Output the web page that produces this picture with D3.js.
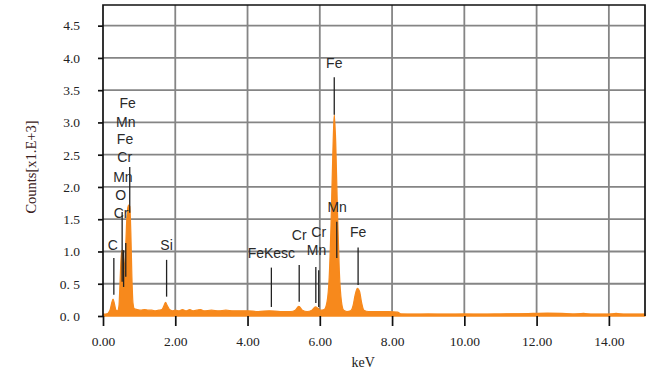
<!DOCTYPE html>
<html>
<head>
<meta charset="utf-8">
<script src="https://cdn.jsdelivr.net/npm/d3@7"></script>
<style>
  body { margin: 0; background: #fff; }
  svg { display: block; }
  .tick text { font-family: "Liberation Serif", "Times New Roman", serif; font-size: 13.5px; fill: #222; }
  .peak-label { font-family: "Liberation Sans", Arial, sans-serif; font-size: 14px; fill: #2a2a2a; }
</style>
</head>
<body>
<svg id="chart"></svg>
<script>
// spectrum (keV, counts x1000)
const spectrumKeV = [0.00,0.05,0.10,0.15,0.20,0.24,0.28,0.32,0.36,0.40,0.44,0.47,0.50,0.53,0.56,0.59,0.62,0.65,0.68,0.71,0.74,0.77,0.80,0.83,0.87,0.95,1.05,1.15,1.25,1.35,1.45,1.55,1.63,1.68,1.73,1.78,1.84,1.92,2.00,2.10,2.20,2.30,2.40,2.50,2.60,2.70,2.80,3.00,3.20,3.40,3.60,3.80,4.00,4.30,4.60,4.90,5.20,5.32,5.42,5.52,5.65,5.78,5.88,5.95,6.02,6.12,6.20,6.26,6.31,6.36,6.40,6.44,6.49,6.54,6.60,6.66,6.75,6.85,6.92,6.98,7.04,7.10,7.16,7.22,7.35,7.60,7.90,8.15,8.25,8.60,9.00,9.50,10.00,10.50,11.00,11.50,11.90,12.30,12.70,13.00,13.30,13.50,14.00,14.20,14.40,15.00];
const spectrumCounts = [0.00,0.01,0.03,0.05,0.10,0.20,0.26,0.18,0.09,0.08,0.15,0.50,0.90,1.02,0.95,0.70,0.95,1.40,1.65,1.72,1.70,1.30,0.60,0.20,0.11,0.10,0.09,0.10,0.09,0.09,0.08,0.09,0.10,0.15,0.21,0.16,0.10,0.08,0.09,0.08,0.10,0.08,0.10,0.08,0.09,0.10,0.08,0.09,0.08,0.09,0.08,0.08,0.08,0.07,0.08,0.07,0.07,0.09,0.15,0.09,0.07,0.09,0.14,0.12,0.09,0.10,0.22,0.60,1.40,2.50,3.12,2.70,1.60,0.70,0.22,0.09,0.07,0.08,0.16,0.33,0.43,0.38,0.20,0.09,0.07,0.07,0.07,0.06,0.03,0.025,0.03,0.025,0.03,0.025,0.03,0.035,0.04,0.045,0.04,0.03,0.04,0.025,0.025,0.04,0.025,0.025];

const xTicks = [0, 2, 4, 6, 8, 10, 12, 14];
const xTickLabels = ["0.00", "2.00", "4.00", "6.00", "8.00", "10.00", "12.00", "14.00"];
const yTicks = [0, 0.5, 1.0, 1.5, 2.0, 2.5, 3.0, 3.5, 4.0, 4.5];
const yTickLabels = ["0. 0", "0. 5", "1.0", "1.5", "2.0", "2.5", "3.0", "3.5", "4.0", "4.5"];

// element labels: text, keV, count (baseline)
const labelText  = ["C", "Fe", "Mn", "Fe", "Cr", "Mn", "O", "Cr", "Si", "FeKesc", "Cr", "Cr", "Mn", "Fe", "Mn", "Fe"];
const labelKeV   = [0.27, 0.68, 0.63, 0.61, 0.60, 0.55, 0.49, 0.50, 1.76, 4.66, 5.43, 5.97, 5.91, 6.40, 6.48, 7.06];
const labelCount = [1.02, 3.23, 2.93, 2.66, 2.38, 2.08, 1.80, 1.52, 1.02, 0.90, 1.18, 1.23, 0.95, 3.84, 1.61, 1.23];

// marker lines: keV, top, bottom
const markerKeV    = [0.30, 0.53, 0.57, 0.63, 0.74, 1.76, 4.66, 5.43, 5.89, 5.97, 6.40, 6.47, 7.06];
const markerTop    = [0.90, 1.61, 1.02, 1.13, 2.31, 0.87, 0.75, 0.79, 0.76, 0.71, 3.70, 1.46, 1.06];
const markerBottom = [0.33, 0.53, 0.45, 0.61, 1.60, 0.30, 0.14, 0.22, 0.20, 0.14, 3.12, 0.90, 0.48];

const W = 663, H = 372;
const margin = {top: 5, right: 18, bottom: 56, left: 103};
const width = W - margin.left - margin.right;
const height = H - margin.top - margin.bottom;

const svg = d3.select("#chart").attr("width", W).attr("height", H);
const g = svg.append("g").attr("transform", `translate(${margin.left},${margin.top})`);

const x = d3.scaleLinear().domain([0, 15]).range([0, width]);
const y = d3.scaleLinear().domain([0, 4.82]).range([height, 0]);

// grid
g.append("g").selectAll("line").data(yTicks.filter(d => d > 0)).join("line")
  .attr("x1", 0).attr("x2", width)
  .attr("y1", d => y(d)).attr("y2", d => y(d))
  .attr("stroke", "#858585").attr("stroke-width", 1.8);
g.append("g").selectAll("line").data(xTicks.filter(d => d > 0)).join("line")
  .attr("x1", d => x(d)).attr("x2", d => x(d))
  .attr("y1", 0).attr("y2", height)
  .attr("stroke", "#858585").attr("stroke-width", 1.8);

// spectrum
const spectrum = spectrumKeV.map((k, i) => ({keV: k, count: spectrumCounts[i]}));
const area = d3.area()
  .x(d => x(d.keV)).y0(y(0)).y1(d => y(d.count))
  .curve(d3.curveMonotoneX);
g.append("path").datum(spectrum)
  .attr("d", area)
  .attr("fill", "#f7891c")
  .attr("stroke", "#f7891c").attr("stroke-width", 1.2);
g.append("line")
  .attr("x1", 0).attr("x2", width).attr("y1", y(0) - 1).attr("y2", y(0) - 1)
  .attr("stroke", "#f7891c").attr("stroke-width", 3);

// frame
g.append("path")
  .attr("d", `M0,${height}V0H${width}V${height}`)
  .attr("fill", "none").attr("stroke", "#111").attr("stroke-width", 1.7);

// axes
const xAxis = g.append("g").attr("transform", `translate(0,${height})`)
  .call(d3.axisBottom(x).tickValues(xTicks).tickFormat((d, i) => xTickLabels[i])
    .tickSizeInner(10).tickSizeOuter(0).tickPadding(10));
xAxis.select(".domain").remove();
xAxis.selectAll(".tick line").attr("stroke", "#111").attr("stroke-width", 1.7);

const yAxis = g.append("g")
  .call(d3.axisLeft(y).tickValues(yTicks).tickFormat((d, i) => yTickLabels[i])
    .tickSizeInner(5).tickSizeOuter(0).tickPadding(18));
yAxis.select(".domain").remove();
yAxis.selectAll(".tick line").attr("stroke", "#111").attr("stroke-width", 1.7);

// axis titles
svg.append("text")
  .attr("x", margin.left + x(7.2)).attr("y", 367)
  .attr("text-anchor", "middle")
  .style("font-family", "'Liberation Serif', serif").style("font-size", "14px").style("fill", "#222")
  .text("keV");
svg.append("text")
  .attr("transform", `translate(36,${167}) rotate(-90)`)
  .attr("text-anchor", "middle")
  .style("font-family", "'Liberation Serif', serif").style("font-size", "14.5px").style("fill", "#3a2020")
  .text("Counts[x1.E+3]");

// marker lines
g.append("g").selectAll("line").data(markerKeV).join("line")
  .attr("x1", d => x(d)).attr("x2", d => x(d))
  .attr("y1", (d, i) => y(markerTop[i])).attr("y2", (d, i) => y(markerBottom[i]))
  .attr("stroke", "#222").attr("stroke-width", 1.3);

// labels
g.append("g").selectAll("text").data(labelText).join("text")
  .attr("class", "peak-label")
  .attr("x", (d, i) => x(labelKeV[i])).attr("y", (d, i) => y(labelCount[i]))
  .attr("text-anchor", "middle")
  .text(d => d);
</script>
</body>
</html>
